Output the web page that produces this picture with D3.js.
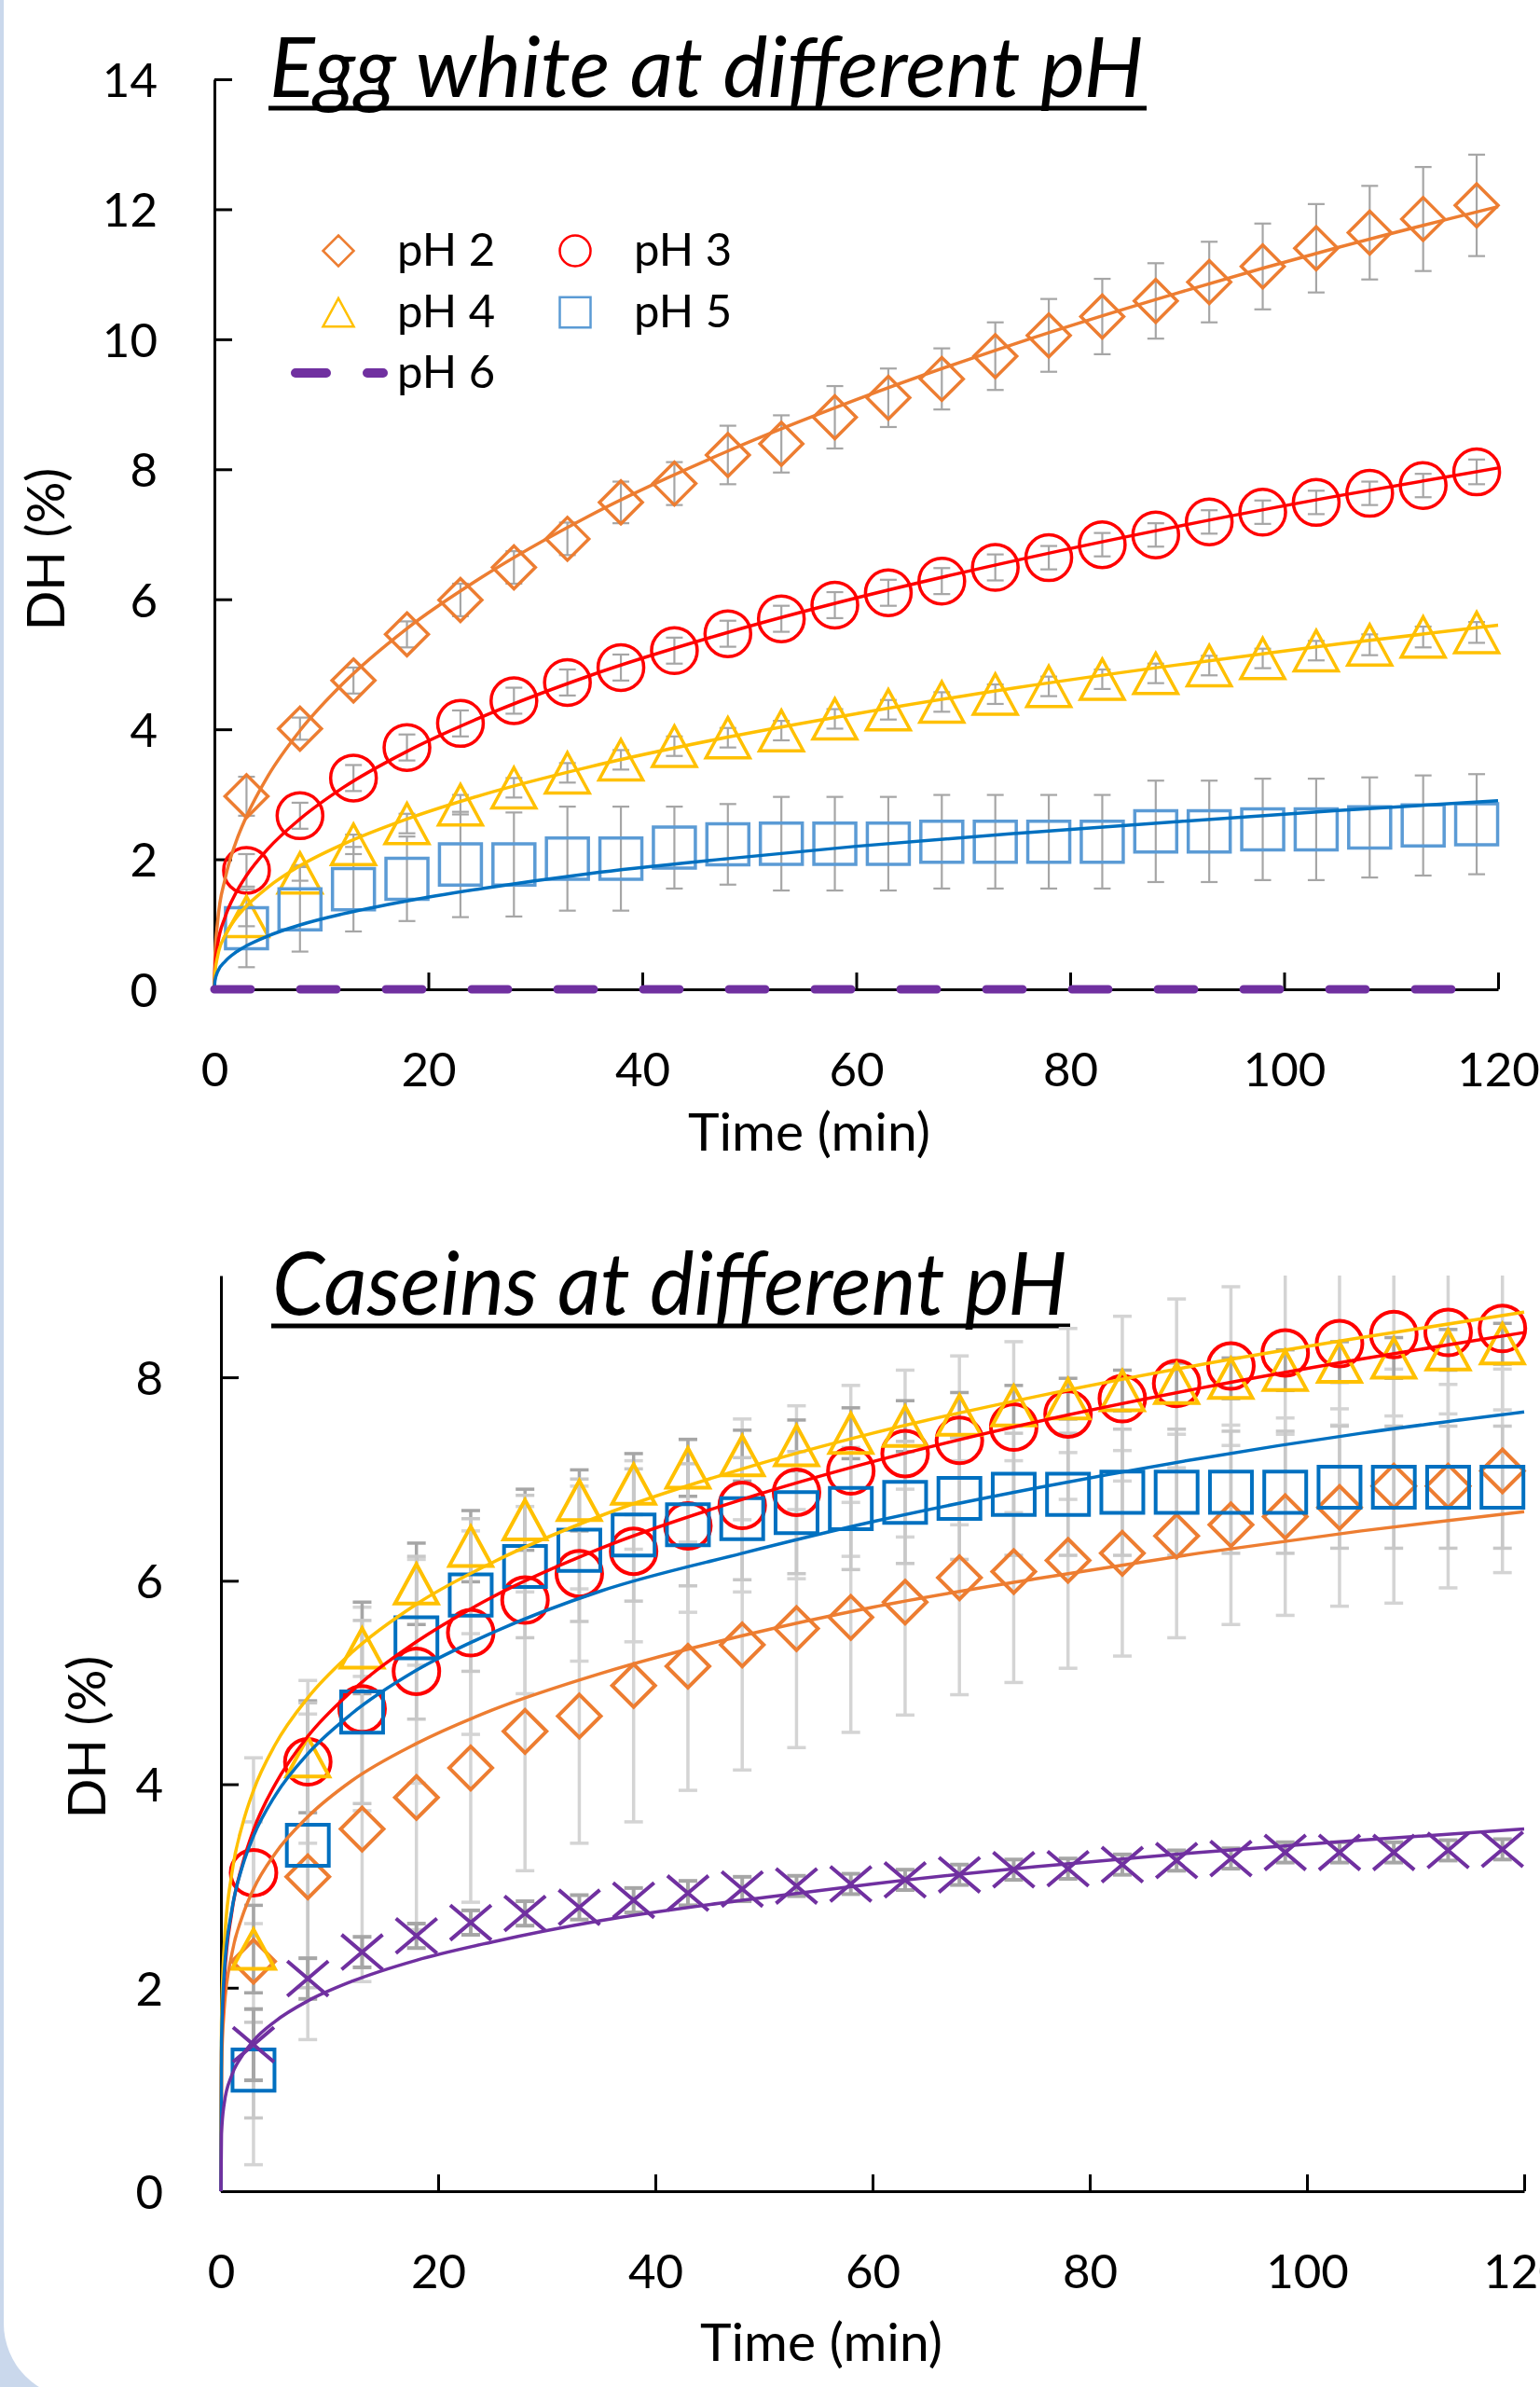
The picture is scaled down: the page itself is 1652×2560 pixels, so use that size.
<!DOCTYPE html>
<html>
<head>
<meta charset="utf-8">
<script src="https://cdn.jsdelivr.net/npm/d3@7"></script>
<style>
  html, body { margin: 0; padding: 0; background: #fff; }
  svg { display: block; }
  text { font-family: Lato, "Open Sans", sans-serif; fill: #000; }
</style>
</head>
<body>
<svg id="chart"></svg>
<script>
const W = 1652, H = 2560;

// sampling times (min)
const times = [3, 8, 13, 18, 23, 28, 33, 38, 43, 48, 53, 58, 63, 68, 73, 78, 83, 88, 93, 98, 103, 108, 113, 118];
const fitTimes = [0, 0.05, 0.3, 1, 2, 3, 5, 8, 12, 18, 25, 35, 48, 60, 75, 90, 105, 120];

const xTicks = [0, 20, 40, 60, 80, 100, 120];
const eggYTicks = [0, 2, 4, 6, 8, 10, 12, 14];
const casYTicks = [0, 2, 4, 6, 8];
const seriesNames = ["pH 2", "pH 3", "pH 4", "pH 5", "pH 6"];

// egg white
const eggPH2 = [2.97, 4.01, 4.75, 5.46, 5.99, 6.49, 6.93, 7.49, 7.78, 8.22, 8.39, 8.80, 9.10, 9.39, 9.74, 10.06, 10.35, 10.59, 10.88, 11.12, 11.40, 11.64, 11.85, 12.06];
const eggPH2Err = [0.30, 0.17, 0.20, 0.20, 0.25, 0.25, 0.25, 0.32, 0.33, 0.45, 0.44, 0.48, 0.45, 0.47, 0.52, 0.56, 0.58, 0.58, 0.62, 0.66, 0.68, 0.72, 0.80, 0.78];
const eggPH3 = [1.83, 2.67, 3.25, 3.72, 4.09, 4.44, 4.72, 4.95, 5.21, 5.47, 5.70, 5.91, 6.10, 6.28, 6.49, 6.64, 6.84, 6.99, 7.19, 7.34, 7.49, 7.63, 7.75, 7.96];
const eggPH3Err = [0.25, 0.20, 0.20, 0.20, 0.20, 0.20, 0.20, 0.20, 0.20, 0.20, 0.20, 0.20, 0.20, 0.20, 0.20, 0.18, 0.18, 0.18, 0.18, 0.18, 0.18, 0.18, 0.18, 0.19];
const eggPH4 = [1.12, 1.79, 2.23, 2.55, 2.84, 3.10, 3.33, 3.53, 3.74, 3.87, 3.98, 4.16, 4.30, 4.42, 4.54, 4.66, 4.77, 4.86, 4.98, 5.09, 5.21, 5.30, 5.42, 5.49];
const eggPH4Err = [0.15, 0.12, 0.15, 0.15, 0.15, 0.15, 0.15, 0.15, 0.15, 0.15, 0.15, 0.15, 0.15, 0.15, 0.15, 0.15, 0.15, 0.15, 0.15, 0.15, 0.15, 0.16, 0.16, 0.16];
const eggPH5 = [0.94, 1.23, 1.54, 1.70, 1.92, 1.92, 2.01, 2.01, 2.18, 2.23, 2.24, 2.24, 2.24, 2.27, 2.27, 2.27, 2.27, 2.43, 2.43, 2.46, 2.46, 2.49, 2.52, 2.54];
const eggPH5Err = [0.60, 0.65, 0.65, 0.65, 0.81, 0.80, 0.80, 0.80, 0.63, 0.62, 0.72, 0.72, 0.72, 0.72, 0.72, 0.72, 0.72, 0.78, 0.78, 0.78, 0.78, 0.77, 0.77, 0.77];

const eggFitPH2 = [0, 0.50, 1.04, 1.70, 2.26, 2.66, 3.28, 3.98, 4.70, 5.55, 6.34, 7.28, 8.28, 9.07, 9.94, 10.71, 11.41, 12.04];
const eggFitPH3 = [0, 0.32, 0.68, 1.11, 1.48, 1.75, 2.16, 2.62, 3.10, 3.66, 4.19, 4.82, 5.49, 6.02, 6.60, 7.12, 7.59, 8.02];
const eggFitPH4 = [0, 0.25, 0.51, 0.83, 1.09, 1.28, 1.57, 1.90, 2.23, 2.62, 2.99, 3.42, 3.88, 4.24, 4.64, 4.99, 5.31, 5.60];
const eggFitPH5 = [0, 0.13, 0.27, 0.43, 0.57, 0.67, 0.82, 0.99, 1.16, 1.36, 1.55, 1.78, 2.01, 2.20, 2.40, 2.58, 2.75, 2.90];
const eggFitPH6 = [0, 0, 0, 0, 0, 0, 0, 0, 0, 0, 0, 0, 0, 0, 0, 0, 0, 0];

// caseins
const casPH2 = [2.26, 3.09, 3.56, 3.87, 4.16, 4.52, 4.67, 4.97, 5.16, 5.37, 5.53, 5.64, 5.79, 6.03, 6.09, 6.20, 6.27, 6.44, 6.55, 6.63, 6.72, 6.93, 6.93, 7.08];
const casPH2Err = [2.00, 1.60, 1.50, 1.30, 1.32, 1.37, 1.25, 1.34, 1.22, 1.23, 1.17, 1.13, 1.11, 1.15, 1.09, 1.06, 1.01, 1.00, 0.98, 0.97, 0.97, 1.15, 1.00, 1.00];
const casPH3 = [3.13, 4.22, 4.74, 5.11, 5.49, 5.81, 6.07, 6.29, 6.54, 6.74, 6.87, 7.08, 7.25, 7.38, 7.51, 7.64, 7.79, 7.94, 8.11, 8.24, 8.33, 8.42, 8.44, 8.48];
const casPH3Err = [0.50, 0.80, 1.00, 1.10, 1.00, 0.92, 0.86, 0.89, 0.85, 0.85, 0.85, 0.84, 0.82, 0.83, 0.84, 0.84, 0.81, 0.83, 0.78, 0.80, 0.80, 0.80, 0.80, 0.80];
const casPH4 = [2.38, 4.27, 5.34, 5.97, 6.34, 6.60, 6.79, 6.95, 7.11, 7.23, 7.33, 7.45, 7.52, 7.63, 7.72, 7.79, 7.87, 7.94, 7.99, 8.07, 8.15, 8.19, 8.27, 8.33];
const casPH4Err = [0.43, 0.55, 0.45, 0.40, 0.35, 0.30, 0.30, 0.30, 0.28, 0.25, 0.25, 0.25, 0.25, 0.22, 0.20, 0.20, 0.20, 0.20, 0.20, 0.20, 0.20, 0.20, 0.20, 0.20];
const casPH5 = [1.19, 3.40, 4.71, 5.44, 5.86, 6.14, 6.30, 6.45, 6.55, 6.61, 6.67, 6.71, 6.77, 6.81, 6.85, 6.85, 6.87, 6.87, 6.87, 6.87, 6.92, 6.92, 6.92, 6.92];
const casPH5Err = [0.47, 1.40, 0.90, 0.80, 0.75, 0.70, 0.70, 0.65, 0.60, 0.60, 0.60, 0.60, 0.60, 0.60, 0.60, 0.60, 0.62, 0.62, 0.60, 0.60, 0.60, 0.60, 0.60, 0.60];
const casPH6 = [1.44, 2.09, 2.35, 2.51, 2.64, 2.73, 2.79, 2.86, 2.93, 2.97, 3.00, 3.02, 3.06, 3.11, 3.16, 3.17, 3.21, 3.25, 3.27, 3.33, 3.33, 3.33, 3.35, 3.36];
const casPH6Err = [0.35, 0.20, 0.15, 0.12, 0.12, 0.12, 0.12, 0.12, 0.12, 0.12, 0.10, 0.10, 0.10, 0.10, 0.10, 0.10, 0.10, 0.10, 0.10, 0.10, 0.10, 0.10, 0.10, 0.10];

const casFitPH2 = [0, 1.21, 1.79, 2.33, 2.71, 2.97, 3.32, 3.68, 4.03, 4.40, 4.73, 5.09, 5.46, 5.74, 6.02, 6.27, 6.49, 6.68];
const casFitPH3 = [0, 1.36, 2.06, 2.74, 3.22, 3.55, 4.00, 4.47, 4.91, 5.40, 5.84, 6.32, 6.80, 7.17, 7.56, 7.89, 8.18, 8.44];
const casFitPH4 = [0, 1.65, 2.41, 3.12, 3.61, 3.94, 4.39, 4.85, 5.29, 5.77, 6.18, 6.64, 7.10, 7.45, 7.81, 8.12, 8.39, 8.64];
const casFitPH5 = [0, 1.46, 2.14, 2.76, 3.20, 3.49, 3.89, 4.30, 4.69, 5.12, 5.49, 5.90, 6.27, 6.58, 6.91, 7.20, 7.45, 7.66];
const casFitPH6 = [0, 0.56, 0.86, 1.14, 1.34, 1.48, 1.67, 1.87, 2.06, 2.27, 2.45, 2.66, 2.86, 3.02, 3.19, 3.33, 3.45, 3.56];

const ORANGE = "#ED7D31", RED = "#FF0000", YELLOW = "#FFC000",
  LIGHTBLUE = "#5B9BD5", BLUE = "#0070C0", PURPLE = "#7030A0";

// marker outlines, s = half size
const shapes = {
  diamond: (s) => `M0,${-s}L${s},0L0,${s}L${-s},0Z`,
  circle: (s) => `M${s},0A${s},${s} 0 1,1 ${-s},0A${s},${s} 0 1,1 ${s},0Z`,
  triangle: (s) => `M0,${-s * 0.92}L${s},${s * 0.92}L${-s},${s * 0.92}Z`,
  square: (s) => `M${-s},${-s * 0.98}H${s}V${s * 0.98}H${-s}Z`,
  cross: (s) => `M${-s},${-s * 0.85}L${s},${s * 0.85}M${-s},${s * 0.85}L${s},${-s * 0.85}`,
};

const svg = d3.select("#chart").attr("width", W).attr("height", H);

// light blue page frame behind the white panel
svg.append("rect").attr("width", W).attr("height", H).attr("fill", "#cad8ec");
svg.append("rect")
  .attr("x", 4).attr("y", -200)
  .attr("width", W + 200).attr("height", 2772)
  .attr("rx", 80).attr("fill", "#fff");

function drawPanel(p) {
  const x = d3.scaleLinear().domain([0, 120]).range(p.xRange);
  const y = d3.scaleLinear().domain(p.yDomain).range(p.yRange);
  const g = svg.append("g");

  const clipId = "clip-" + p.id;
  svg.append("clipPath").attr("id", clipId)
    .append("rect")
    .attr("x", 0).attr("y", p.yRange[1])
    .attr("width", W).attr("height", p.yRange[0] - p.yRange[1] + 20);

  // axes with inward ticks
  const yAxisG = g.append("g")
    .attr("transform", `translate(${p.xRange[0]},0)`)
    .call(d3.axisLeft(y).tickValues(p.yTicks).tickSizeInner(-19).tickSizeOuter(0).tickPadding(p.yLabelGap));
  const xAxisG = g.append("g")
    .attr("transform", `translate(0,${p.yRange[0]})`)
    .call(d3.axisBottom(x).tickValues(xTicks).tickSizeInner(-18).tickSizeOuter(0));

  [yAxisG, xAxisG].forEach((a) => {
    a.select(".domain").attr("stroke", "#000").attr("stroke-width", 3);
    a.selectAll(".tick line").attr("stroke", "#000").attr("stroke-width", 3);
    a.selectAll(".tick text")
      .attr("fill", "#000")
      .style("font-family", "Lato, 'Open Sans', sans-serif")
      .style("font-size", "51px");
  });
  yAxisG.selectAll(".tick text").attr("dy", "0.36em");
  xAxisG.selectAll(".tick text").attr("y", 104).attr("dy", null);

  // axis titles
  g.append("text")
    .attr("x", p.xTitle[0]).attr("y", p.xTitle[1])
    .attr("text-anchor", "middle")
    .style("font-size", "57px")
    .text("Time (min)");
  g.append("text")
    .attr("transform", `translate(${p.yTitle[0]},${p.yTitle[1]}) rotate(-90)`)
    .attr("text-anchor", "middle")
    .attr("dy", "0.36em")
    .style("font-size", "56px")
    .text("DH (%)");

  // title
  g.append("text")
    .attr("x", p.title.x).attr("y", p.title.y)
    .attr("textLength", p.title.w)
    .attr("lengthAdjust", "spacingAndGlyphs")
    .style("font-size", p.title.size + "px")
    .style("font-style", "italic")
    .text(p.title.text);
  g.append("line")
    .attr("x1", p.title.x - 1).attr("x2", p.title.x + p.title.w + 3)
    .attr("y1", p.title.uy).attr("y2", p.title.uy)
    .attr("stroke", "#000").attr("stroke-width", 5);

  const plot = g.append("g").attr("clip-path", `url(#${clipId})`);

  // error bars
  p.series.forEach((s) => {
    if (!s.err) return;
    const eg = plot.append("g")
      .attr("stroke", s.errColor || p.errColor)
      .attr("stroke-width", s.errWidth || p.errWidth);
    times.forEach((t, i) => {
      const cx = x(t), lo = y(s.values[i] - s.err[i]), hi = y(s.values[i] + s.err[i]);
      eg.append("line").attr("x1", cx).attr("x2", cx).attr("y1", lo).attr("y2", hi);
      eg.append("line").attr("x1", cx - p.capHalf).attr("x2", cx + p.capHalf).attr("y1", lo).attr("y2", lo);
      eg.append("line").attr("x1", cx - p.capHalf).attr("x2", cx + p.capHalf).attr("y1", hi).attr("y2", hi);
    });
  });

  // markers
  p.series.forEach((s) => {
    if (!s.values) return;
    plot.append("g")
      .selectAll("path")
      .data(times.map((t, i) => [t, s.values[i]]))
      .join("path")
      .attr("transform", (d) => `translate(${x(d[0])},${y(d[1])})`)
      .attr("d", shapes[s.shape](s.size))
      .attr("fill", "none")
      .attr("stroke", s.color)
      .attr("stroke-width", p.markerWidth);
  });

  // trend lines
  const line = d3.line()
    .x((d) => x(d[0]))
    .y((d) => y(d[1]))
    .curve(d3.curveMonotoneX);
  p.series.forEach((s) => {
    plot.append("path")
      .datum(fitTimes.map((t, i) => [t, s.fit[i]]))
      .attr("d", line)
      .attr("fill", "none")
      .attr("stroke", s.fitColor)
      .attr("stroke-width", s.fitWidth || p.fitWidth)
      .attr("stroke-dasharray", s.dash || null)
      .attr("stroke-linecap", s.dash ? "round" : "butt");
  });

  return { x, y, g };
}

const egg = drawPanel({
  id: "egg",
  xRange: [230, 1607],
  yDomain: [0, 14],
  yRange: [1061, 85],
  yTicks: eggYTicks,
  yLabelGap: 61,
  xTitle: [868, 1234],
  yTitle: [49, 589],
  title: { text: "Egg white at different pH", x: 289, y: 104, w: 938, size: 90, uy: 116 },
  errColor: "#a6a6a6", errWidth: 2.2, capHalf: 9,
  markerWidth: 3.5, fitWidth: 3.5,
  series: [
    { name: seriesNames[0], values: eggPH2, err: eggPH2Err, fit: eggFitPH2, shape: "diamond", size: 23, color: ORANGE, fitColor: ORANGE },
    { name: seriesNames[1], values: eggPH3, err: eggPH3Err, fit: eggFitPH3, shape: "circle", size: 24.5, color: RED, fitColor: RED },
    { name: seriesNames[2], values: eggPH4, err: eggPH4Err, fit: eggFitPH4, shape: "triangle", size: 23.5, color: YELLOW, fitColor: YELLOW },
    { name: seriesNames[3], values: eggPH5, err: eggPH5Err, fit: eggFitPH5, shape: "square", size: 22.5, color: LIGHTBLUE, fitColor: BLUE },
    { name: seriesNames[4], values: null, fit: eggFitPH6, fitColor: PURPLE, fitWidth: 9, dash: "39 53" },
  ],
});

drawPanel({
  id: "cas",
  xRange: [237, 1635],
  yDomain: [0, 9],
  yRange: [2350, 1368],
  yTicks: casYTicks,
  yLabelGap: 62,
  xTitle: [881, 2532],
  yTitle: [93, 1863],
  title: { text: "Caseins at different pH", x: 292, y: 1410, w: 853, size: 93, uy: 1422 },
  errColor: "#d4d4d4", errWidth: 3.5, capHalf: 10,
  markerWidth: 4, fitWidth: 3.5,
  series: [
    { name: seriesNames[0], values: casPH2, err: casPH2Err, fit: casFitPH2, shape: "diamond", size: 23, color: ORANGE, fitColor: ORANGE },
    { name: seriesNames[1], values: casPH3, err: casPH3Err, fit: casFitPH3, shape: "circle", size: 24.5, color: RED, fitColor: RED },
    { name: seriesNames[2], values: casPH4, err: casPH4Err, fit: casFitPH4, shape: "triangle", size: 23, color: YELLOW, fitColor: YELLOW, errColor: "#a6a6a6" },
    { name: seriesNames[3], values: casPH5, err: casPH5Err, fit: casFitPH5, shape: "square", size: 22.5, color: BLUE, fitColor: BLUE, errColor: "#c8c8c8" },
    { name: seriesNames[4], values: casPH6, err: casPH6Err, fit: casFitPH6, shape: "cross", size: 22, color: PURPLE, fitColor: PURPLE, errColor: "#a6a6a6", errWidth: 4 },
  ],
});

// legend (egg white panel)
const legendItems = [
  { name: seriesNames[0], shape: "diamond", color: ORANGE, pos: [363, 269], text: [426, 285] },
  { name: seriesNames[1], shape: "circle", color: RED, pos: [617, 269], text: [680, 285] },
  { name: seriesNames[2], shape: "triangle", color: YELLOW, pos: [363, 335], text: [426, 351] },
  { name: seriesNames[3], shape: "square", color: LIGHTBLUE, pos: [617, 335], text: [680, 351] },
];
const legend = egg.g.append("g");
legendItems.forEach((d) => {
  legend.append("path")
    .attr("transform", `translate(${d.pos[0]},${d.pos[1]})`)
    .attr("d", shapes[d.shape](16.5))
    .attr("fill", "none")
    .attr("stroke", d.color)
    .attr("stroke-width", 2.5);
  legend.append("text")
    .attr("x", d.text[0]).attr("y", d.text[1])
    .style("font-size", "49px")
    .text(d.name);
});
legend.append("line")
  .attr("x1", 317).attr("x2", 411).attr("y1", 400).attr("y2", 400)
  .attr("stroke", PURPLE).attr("stroke-width", 10)
  .attr("stroke-linecap", "round")
  .attr("stroke-dasharray", "33 44");
legend.append("text")
  .attr("x", 426).attr("y", 416)
  .style("font-size", "49px")
  .text(seriesNames[4]);
</script>
</body>
</html>
